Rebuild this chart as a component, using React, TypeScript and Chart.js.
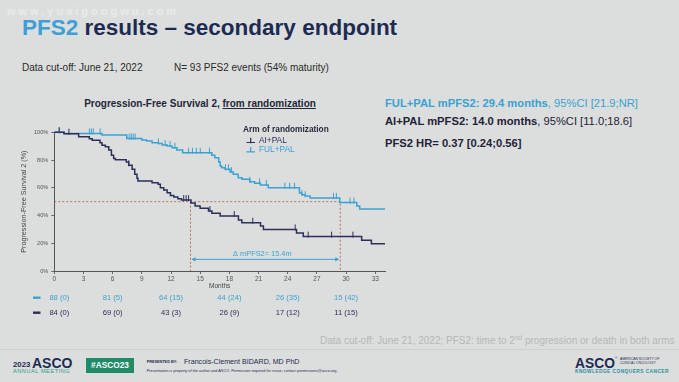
import React, { useEffect, useRef } from "react";
import { Chart, registerables } from "chart.js";
Chart.register(...registerables);

const FF = '"Liberation Sans", Arial, Helvetica, sans-serif';
const BG = "#dcdedd";
const BLUE = "#3aa1d0";
const NAVY = "#2c2f5c";
const TITLE_NAVY = "#1d2b52";
const MEDIAN_COLOR = "#b3715a";

// Kaplan–Meier step data (time in months, survival %)
const FUL_T = [0, 1.0, 4.9, 7.45, 9.0, 9.5, 10.05, 10.7, 11.1, 11.6, 12.1, 12.6, 13.2, 16.2, 16.5, 16.9, 17.05, 17.2, 17.56, 18.07, 18.4, 18.9, 19.3, 20.1, 20.6, 21.2, 22.0, 25.2, 25.45, 25.8, 26.3, 29.35, 31.1, 31.4, 34];
const FUL_S = [100, 99.2, 98.0, 95.5, 94.4, 93.7, 92.5, 92.0, 90.8, 90.1, 88.9, 87.2, 85.3, 83.4, 81.7, 78.6, 75.7, 74.5, 73.3, 71.4, 69.7, 67.3, 66.1, 64.3, 63.2, 62.0, 60.1, 56.3, 55.0, 54.0, 52.6, 49.3, 46.9, 44.7, 44.7];
const AI_T = [0, 1.0, 2.5, 3.6, 3.9, 4.7, 4.9, 5.25, 5.6, 5.87, 6.1, 6.28, 7.4, 7.65, 8.0, 8.27, 8.5, 8.6, 10.05, 10.67, 10.9, 11.25, 11.6, 11.94, 12.28, 12.7, 13.07, 14.05, 14.48, 14.99, 15.85, 16.2, 17.05, 18.93, 19.28, 21.2, 21.5, 24.9, 25.6, 31.6, 32.6, 34];
const AI_S = [100, 99.0, 96.8, 95.4, 94.3, 92.5, 90.6, 89.5, 87.2, 83.4, 81.2, 80.2, 78.6, 76.2, 73.3, 69.7, 66.8, 64.9, 63.7, 62.5, 60.0, 58.4, 56.5, 54.5, 53.3, 52.1, 51.1, 49.0, 46.8, 45.2, 43.2, 41.6, 39.6, 36.8, 34.8, 32.4, 30.0, 27.4, 24.8, 22.1, 19.7, 19.7];

// censor marks (months)
const FUL_CENSOR = [0.5, 3.6, 3.8, 4.0, 4.7, 7.7, 7.9, 8.1, 8.3, 10.7, 11.4, 11.9, 12.4, 13.8, 14.2, 14.6, 15.0, 15.95, 17.6, 17.9, 18.2, 20.1, 21.1, 21.8, 23.7, 24.2, 24.7, 25.45, 25.8, 28.7, 29.0, 30.4, 30.8];
const AI_CENSOR = [0.5, 1.5, 7.65, 13.3, 13.55, 13.8, 16.0, 18.5, 20.4, 24.76, 26.1, 28.5, 30.7];

// medians
const MEDIAN_AI = 14.0;
const MEDIAN_FUL = 29.4;
const ARROW_Y = 8.4;
const DELTA_LABEL = "\u0394 mPFS2= 15.4m";

// axes
const X_MAX = 34;
const X_STEP = 3;
const Y_STEP = 20;

// risk table
const RISK_MONTHS = [0, 6, 12, 18, 24, 30];
const FUL_RISK = ["88 (0)", "81 (5)", "64 (15)", "44 (24)", "26 (35)", "15 (42)"];
const AI_RISK = ["84 (0)", "69 (0)", "43 (3)", "26 (9)", "17 (12)", "11 (15)"];

const SERIES_NAMES = ["AI+PAL", "FUL+PAL"];

function stepAt(ts: number[], ss: number[], t: number) {
  let v = ss[0];
  for (let i = 0; i < ts.length; i++) if (ts[i] <= t) v = ss[i];
  return v;
}

function makeTick(color: string) {
  const c = document.createElement("canvas");
  c.width = 3;
  c.height = 12;
  const g = c.getContext("2d")!;
  g.fillStyle = color;
  g.fillRect(1, 1, 1, 6);
  return c;
}

const overlay = {
  id: "overlay",
  afterDraw(chart: any) {
    const ctx = chart.ctx as CanvasRenderingContext2D;
    const xs = chart.scales.x;
    const ys = chart.scales.y;
    const ca = chart.chartArea;
    ctx.save();
    // y title
    ctx.translate(24, (ca.top + ca.bottom) / 2);
    ctx.rotate(-Math.PI / 2);
    ctx.font = `7.2px ${FF}`;
    ctx.fillStyle = "#444";
    ctx.textAlign = "center";
    ctx.textBaseline = "middle";
    ctx.fillText("Progression-Free Survival 2 (%)", 0, 0);
    ctx.restore();

    ctx.save();
    ctx.font = `6.5px ${FF}`;
    ctx.fillStyle = "#444";
    ctx.textAlign = "center";
    ctx.textBaseline = "middle";
    ctx.fillText("Months", (ca.left + ca.right) / 2, 286.7);

    // legend
    ctx.textAlign = "left";
    ctx.textBaseline = "alphabetic";
    ctx.font = `bold 8.3px ${FF}`;
    ctx.fillStyle = "#232a3b";
    ctx.fillText("Arm of randomization", 243, 131.5);
    SERIES_NAMES.forEach((name, i) => {
      const y = 140.7 + i * 9.3;
      const col = i === 0 ? NAVY : BLUE;
      ctx.strokeStyle = col;
      ctx.lineWidth = 1.2;
      ctx.beginPath();
      ctx.moveTo(246.5, y + 1.8);
      ctx.lineTo(255, y + 1.8);
      ctx.moveTo(250.7, y - 3);
      ctx.lineTo(250.7, y + 2.5);
      ctx.stroke();
      ctx.fillStyle = col;
      ctx.font = `8.3px ${FF}`;
      ctx.textBaseline = "middle";
      ctx.fillText(name, 259, y);
    });

    // arrow
    const ay = ys.getPixelForValue(ARROW_Y);
    const ax1 = xs.getPixelForValue(MEDIAN_AI);
    const ax2 = xs.getPixelForValue(MEDIAN_FUL);
    ctx.strokeStyle = BLUE;
    ctx.fillStyle = BLUE;
    ctx.lineWidth = 1;
    ctx.beginPath();
    ctx.moveTo(ax1 + 2, ay);
    ctx.lineTo(ax2 - 2, ay);
    ctx.stroke();
    ctx.beginPath();
    ctx.moveTo(ax1 + 1, ay);
    ctx.lineTo(ax1 + 5, ay - 2.2);
    ctx.lineTo(ax1 + 5, ay + 2.2);
    ctx.closePath();
    ctx.fill();
    ctx.beginPath();
    ctx.moveTo(ax2 - 1, ay);
    ctx.lineTo(ax2 - 5, ay - 2.2);
    ctx.lineTo(ax2 - 5, ay + 2.2);
    ctx.closePath();
    ctx.fill();
    ctx.font = `7.4px ${FF}`;
    ctx.textAlign = "center";
    ctx.textBaseline = "middle";
    ctx.fillText(DELTA_LABEL, (ax1 + ax2) / 2 - 3, ay - 5.5);

    // risk table
    [FUL_RISK, AI_RISK].forEach((row, r) => {
      const y = r === 0 ? 297.7 : 312.7;
      const col = r === 0 ? BLUE : NAVY;
      ctx.fillStyle = col;
      ctx.fillRect(33, y - 1.2, 7.5, 2.4);
      ctx.font = `7.6px ${FF}`;
      ctx.textAlign = "center";
      ctx.textBaseline = "middle";
      row.forEach((txt, i) => {
        const x = xs.getPixelForValue(RISK_MONTHS[i]) + (i === 0 ? 5 : 0);
        ctx.fillText(txt, x, y);
      });
    });
    ctx.restore();
  },
};

function Txt(props: { x: number; b: number; size: number; color?: string; bold?: boolean; children: any; style?: any }) {
  const { x, b, size, color, bold, children, style } = props;
  return (
    <div
      style={{
        position: "absolute",
        left: x,
        top: b - 0.8465 * size,
        fontSize: size,
        lineHeight: `${size}px`,
        fontWeight: bold ? "bold" : "normal",
        color: color || "#222",
        whiteSpace: "nowrap",
        fontFamily: FF,
        ...style,
      }}
    >
      {children}
    </div>
  );
}

export default function App() {
  const ref = useRef<HTMLCanvasElement>(null);
  useEffect(() => {
    const fulLine = FUL_T.map((t, i) => ({ x: t, y: FUL_S[i] }));
    const aiLine = AI_T.map((t, i) => ({ x: t, y: AI_S[i] }));
    const fulC = FUL_CENSOR.map((t) => ({ x: t, y: stepAt(FUL_T, FUL_S, t) }));
    const aiC = AI_CENSOR.map((t) => ({ x: t, y: stepAt(AI_T, AI_S, t) }));
    const chart = new Chart(ref.current!, {
      type: "line",
      data: {
        datasets: [
          { data: aiC, showLine: false, pointStyle: makeTick(NAVY) as any, pointRadius: 3, clip: false as any },
          { data: fulC, showLine: false, pointStyle: makeTick(BLUE) as any, pointRadius: 3, clip: false as any },
          { data: aiLine, borderColor: NAVY, borderWidth: 1.5, pointRadius: 0, stepped: "before", clip: false as any },
          { data: fulLine, borderColor: BLUE, borderWidth: 1.5, pointRadius: 0, stepped: "before", clip: false as any },
          {
            data: [{ x: 0, y: 50 }, { x: MEDIAN_FUL, y: 50 }, { x: MEDIAN_FUL, y: 0 }],
            borderColor: MEDIAN_COLOR, borderWidth: 1, borderDash: [2, 2], pointRadius: 0,
          },
          {
            data: [{ x: MEDIAN_AI, y: 50 }, { x: MEDIAN_AI, y: 0 }],
            borderColor: MEDIAN_COLOR, borderWidth: 1, borderDash: [2, 2], pointRadius: 0,
          },
        ],
      },
      options: {
        animation: false,
        responsive: false,
        events: [],
        layout: { padding: { left: 24.3, right: 294, top: 132.3, bottom: 91 } },
        plugins: { legend: { display: false }, tooltip: { enabled: false } },
        scales: {
          x: {
            type: "linear",
            min: 0,
            max: X_MAX,
            afterFit: (s: any) => { s.height = 20; },
            ticks: { stepSize: X_STEP, includeBounds: false, autoSkip: false, maxRotation: 0, font: { size: 6.5, family: FF }, color: "#555", padding: 1 },
            grid: { drawOnChartArea: false, tickLength: 3, color: "#666" },
            border: { color: "#555", width: 1 },
          },
          y: {
            min: 0,
            max: 100,
            afterFit: (s: any) => { s.width = 30; },
            ticks: { stepSize: Y_STEP, callback: (v: any) => v + "%", font: { size: 5.6, family: FF }, color: "#555", padding: 3 },
            grid: { drawOnChartArea: false, tickLength: 3, color: "#666" },
            border: { color: "#555", width: 1 },
          },
        },
      } as any,
      plugins: [overlay],
    });
    return () => chart.destroy();
  }, []);

  return (
    <div style={{ position: "fixed", left: 0, top: 0, width: 679, height: 382, background: BG, overflow: "hidden", fontFamily: FF }}>
      <Txt x={7} b={15} size={11} bold color="#e9eaea" style={{ letterSpacing: 3 }}>www.yuaigongwu.com</Txt>
      <Txt x={22} b={36} size={22.5} bold color={TITLE_NAVY}>
        <span style={{ color: "#3d9fd6" }}>PFS2</span> results – secondary endpoint
      </Txt>
      <Txt x={22} b={71.5} size={10} color="#2a2a2a">Data cut-off: June 21, 2022</Txt>
      <Txt x={174} b={71.5} size={10} color="#2a2a2a">N= 93 PFS2 events (54% maturity)</Txt>
      <div style={{ position: "absolute", left: 0, width: 400, top: 107.2 - 8.465, textAlign: "center", fontSize: 10, lineHeight: "10px", fontWeight: "bold", color: "#1f2638", whiteSpace: "nowrap" }}>
        Progression-Free Survival 2, <span style={{ textDecoration: "underline" }}>from randomization</span>
      </div>
      <Txt x={385} b={107.2} size={11.2} color={BLUE}>
        <b>FUL+PAL mPFS2: 29.4 months</b>, 95%CI [21.9;NR]
      </Txt>
      <Txt x={385} b={125.6} size={11.2} color="#1e2238">
        <b>AI+PAL mPFS2: 14.0 months</b>, 95%CI [11.0;18.6]
      </Txt>
      <Txt x={385} b={147.2} size={11.2} bold color="#1e2238">PFS2 HR= 0.37 [0.24;0.56]</Txt>

      <Txt x={320} b={344} size={10} color="#b4b7b7">
        Data cut-off: June 21, 2022; PFS2: time to 2<sup style={{ fontSize: 6.5, lineHeight: 0 }}>nd</sup> progression or death in both arms
      </Txt>
      <div style={{ position: "absolute", left: 0, top: 349, width: 679, height: 1, background: "#cdd0cf" }} />

      <Txt x={13} b={368} size={7.8} bold color={TITLE_NAVY}>2023</Txt>
      <Txt x={32} b={368} size={14} bold color={TITLE_NAVY}>ASCO</Txt>
      <Txt x={13} b={373.5} size={5.6} color="#2a9a8c" style={{ letterSpacing: 0.55 }}>ANNUAL MEETING</Txt>
      <div style={{ position: "absolute", left: 86, top: 358.3, width: 48, height: 15, background: "#1f8b69", color: "#fff", fontWeight: "bold", fontSize: 8.3, lineHeight: "15px", textAlign: "center" }}>#ASCO23</div>
      <Txt x={146.7} b={364} size={3.8} bold color={TITLE_NAVY}>PRESENTED BY:</Txt>
      <Txt x={184} b={365.3} size={7.1} color={TITLE_NAVY}>Francois-Clement BIDARD, MD PhD</Txt>
      <Txt x={146.7} b={373.5} size={3.85} color={TITLE_NAVY}>
        Presentation is property of the author and ASCO. Permission required for reuse; contact permissions@asco.org.
      </Txt>

      <Txt x={575} b={368.3} size={13.8} bold color={TITLE_NAVY}>ASCO</Txt>
      <Txt x={615} b={359.5} size={3} color={TITLE_NAVY}>®</Txt>
      <Txt x={620} b={361} size={3.4} color={TITLE_NAVY}>AMERICAN SOCIETY OF</Txt>
      <Txt x={620} b={365} size={3.4} color={TITLE_NAVY}>CLINICAL ONCOLOGY</Txt>
      <Txt x={575} b={374.5} size={4.8} bold color="#2a8fa0" style={{ letterSpacing: 0.45 }}>KNOWLEDGE CONQUERS CANCER</Txt>

      <canvas ref={ref} width={679} height={382} style={{ position: "absolute", left: 0, top: 0, width: 679, height: 382 }} />
    </div>
  );
}
